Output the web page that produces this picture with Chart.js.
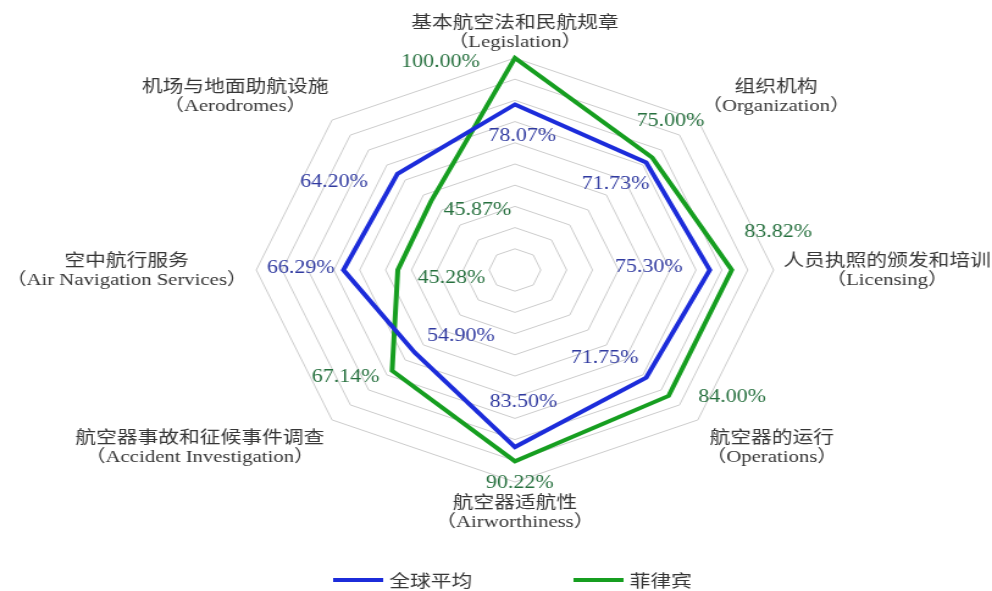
<!DOCTYPE html>
<html>
<head>
<meta charset="utf-8">
<script src="https://cdn.jsdelivr.net/npm/chart.js@4/dist/chart.umd.min.js"></script>
<style>
    html, body { margin: 0; padding: 0; background: #fff; overflow: hidden; }
    /* The reference picture is stretched horizontally, so the canvas is too. */
    #chart { display: block; transform: scaleX(1.2202); transform-origin: 0 0; }
</style>
</head>
<body>
<canvas id="chart" width="813" height="591"></canvas>
<script>
/** Axis categories (Chinese and English). */
const categories = ['基本航空法和民航规章', '组织机构', '人员执照的颁发和培训', '航空器的运行',
    '航空器适航性', '航空器事故和征候事件调查', '空中航行服务', '机场与地面助航设施'];
const categoriesEn = ['Legislation', 'Organization', 'Licensing', 'Operations',
    'Airworthiness', 'Accident Investigation', 'Air Navigation Services', 'Aerodromes'];

/** Series values (%). */
const globalAverage = [78.07, 71.73, 75.30, 71.75, 83.50, 54.90, 66.29, 64.20];
const philippines = [100.00, 75.00, 83.82, 84.00, 90.22, 67.14, 45.28, 45.87];
const seriesNames = ['全球平均', '菲律宾'];

/** Radial axis ticks. */
const axisMin = 0;
const axisMax = 100;
const axisStep = 10;

/**
 * The series styles.
 */
const SeriesStyle = [
    { line: 'rgb(28, 44, 218)', text: 'rgb(48, 58, 160)',
      // value label offsets from each point
      offsets: [[6, 32], [-25, 22], [-50, -3], [-34, -19], [7, -45], [38, -16], [-35, -2], [-52, 9]] },
    { line: 'rgb(22, 158, 32)', text: 'rgb(38, 112, 62)',
      offsets: [[-61, 4], [15, -36], [38, -38], [52, 1], [4, 22], [-38, 7], [44, 8], [38, 9]] }
];

/** Gap between the outer ring and each axis label. */
const axisLabelPad = [5, 4, 8, 9, 9, 9, 7, 4];

const CJK = '"Noto Sans CJK SC", sans-serif';
const SERIF = '"Liberation Serif", "Times New Roman", "Noto Sans CJK SC", serif';

/**
 * Draw the value labels next to each point.
 */
const valueLabels = {
    id: 'valueLabels',
    afterDatasetsDraw(chart) {
        const ctx = chart.ctx;
        ctx.save();
        ctx.font = '18px ' + SERIF;
        ctx.textAlign = 'center';
        ctx.textBaseline = 'middle';
        chart.data.datasets.forEach((dataset, d) => {
            const style = SeriesStyle[d];
            ctx.fillStyle = style.text;
            chart.getDatasetMeta(d).data.forEach((point, i) => {
                const [dx, dy] = style.offsets[i];
                ctx.fillText(dataset.data[i].toFixed(2) + '%', point.x + dx, point.y + dy);
            });
        });
        ctx.restore();
    }
};

/**
 * Draw the two line axis labels, centered as blocks.
 */
const axisLabels = {
    id: 'axisLabels',
    afterDraw(chart) {
        const scale = chart.scales.r;
        const ctx = chart.ctx;
        const n = chart.data.labels.length;
        const lineHeight = 21;
        ctx.save();
        ctx.fillStyle = '#363636';
        ctx.textAlign = 'center';
        ctx.textBaseline = 'middle';
        for (let i = 0; i < n; i++) {
            const lines = [
                { text: categories[i], font: '17px ' + CJK },
                { text: '（' + categoriesEn[i] + '）', font: '17px ' + SERIF }
            ];
            let blockW = 0;
            lines.forEach(line => {
                ctx.font = line.font;
                blockW = Math.max(blockW, ctx.measureText(line.text).width);
            });
            const blockH = lineHeight * lines.length;
            const pos = scale.getPointPosition(i, scale.drawingArea + axisLabelPad[i]);
            const angle = Math.round(i * 360 / n) % 360;
            let left = pos.x - blockW / 2;
            if (angle > 0 && angle < 180) left = pos.x;
            else if (angle > 180) left = pos.x - blockW;
            let top = pos.y;
            if (angle === 90 || angle === 270) top = pos.y - blockH / 2;
            else if (angle > 270 || angle < 90) top = pos.y - blockH;
            lines.forEach((line, k) => {
                ctx.font = line.font;
                ctx.fillText(line.text, left + blockW / 2, top + lineHeight * (k + 0.5));
            });
        }
        ctx.restore();
    }
};

/**
 * Draw the legend along the bottom edge.
 */
const bottomLegend = {
    id: 'bottomLegend',
    afterDraw(chart) {
        const ctx = chart.ctx;
        const starts = [273, 470];
        const y = 580;
        ctx.save();
        ctx.font = '17px ' + CJK;
        ctx.textBaseline = 'middle';
        chart.data.datasets.forEach((dataset, d) => {
            ctx.strokeStyle = SeriesStyle[d].line;
            ctx.lineWidth = 4;
            ctx.beginPath();
            ctx.moveTo(starts[d], y);
            ctx.lineTo(starts[d] + 41, y);
            ctx.stroke();
            ctx.fillStyle = '#363636';
            ctx.fillText(dataset.label, starts[d] + 46, y + 1);
        });
        ctx.restore();
    }
};

document.addEventListener('DOMContentLoaded', function() {
    const datasets = [globalAverage, philippines].map((values, d) => ({
        label: seriesNames[d],
        data: values,
        borderColor: SeriesStyle[d].line,
        backgroundColor: 'transparent',
        borderWidth: 4,
        pointRadius: 0,
        fill: false,
        tension: 0
    }));
    new Chart(document.getElementById('chart').getContext('2d'), {
        type: 'radar',
        data: { labels: categories, datasets: datasets },
        options: {
            responsive: false,
            animation: false,
            layout: { padding: { left: 210, right: 179, top: 58, bottom: 109 } },
            plugins: { legend: { display: false }, tooltip: { enabled: false } },
            scales: {
                r: {
                    min: axisMin,
                    max: axisMax,
                    ticks: { display: false, stepSize: axisStep },
                    grid: { color: '#cccccc', lineWidth: 1 },
                    angleLines: { display: false },
                    pointLabels: { display: false }
                }
            }
        },
        plugins: [valueLabels, axisLabels, bottomLegend]
    });
});
</script>
</body>
</html>
